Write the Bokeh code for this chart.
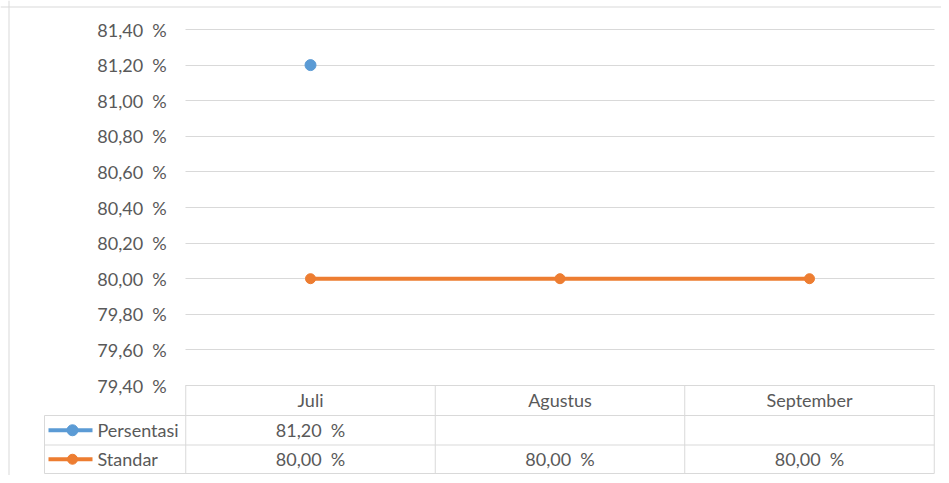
import math
from bokeh.plotting import figure
from bokeh.models import Range1d, LinearAxis, FixedTicker, Grid, ColumnDataSource, Span
from bokeh.core.properties import value
from bokeh.embed import file_html
from bokeh.resources import INLINE

# ---- data ----
months = ["Juli", "Agustus", "September"]
series_names = ["Persentasi", "Standar"]
persentasi = [81.20, float("nan"), float("nan")]
standar = [80.00, 80.00, 80.00]
y_ticks = [79.40, 79.60, 79.80, 80.00, 80.20, 80.40, 80.60, 80.80, 81.00, 81.20, 81.40]
y_tick_labels = ["79,40\u00a0\u00a0%", "79,60\u00a0\u00a0%", "79,80\u00a0\u00a0%", "80,00\u00a0\u00a0%",
                 "80,20\u00a0\u00a0%", "80,40\u00a0\u00a0%", "80,60\u00a0\u00a0%", "80,80\u00a0\u00a0%",
                 "81,00\u00a0\u00a0%", "81,20\u00a0\u00a0%", "81,40\u00a0\u00a0%"]

colors = ["#5b9bd5", "#ed7d31"]
marker_sizes = [11, 10]
TEXT = "#595959"
GRID = "#d9d9d9"
FONT = "Lato"
FS = "18px"

# ---- layout (pixels -> data) ----
W, H = 941, 475
cat_px = 249.5          # pixels per category
x_center0 = 310         # canvas x of first category centre
y_px = 178.0            # pixels per 1.0 on the value axis
y_top_px = 29           # canvas y of top tick
ymin, ymax = y_ticks[0], y_ticks[-1]

x0 = -x_center0 / cat_px
x1 = (W - x_center0) / cat_px
y1 = ymax + y_top_px / y_px
y0 = ymax - (H - y_top_px) / y_px

def xd(px_canvas):
    return (px_canvas - x_center0) / cat_px

def yd(px_below_min):
    return ymin - px_below_min / y_px

def ycanvas(py):
    return ymax - (py - y_top_px) / y_px

p = figure(width=W, height=H, output_backend="svg", toolbar_location=None,
           x_range=Range1d(x0, x1), y_range=Range1d(y0, y1),
           x_axis_type=None, y_axis_type=None, min_border=0)
p.outline_line_color = None
p.background_fill_color = "white"
p.border_fill_color = "white"

# chart border (left and top edges visible)
p.add_layout(Span(location=xd(8.5), dimension="height", line_color=GRID, line_width=1))
p.add_layout(Span(location=ycanvas(6.5), dimension="width", line_color=GRID, line_width=1))

# grid
p.add_layout(Grid(dimension=1, ticker=FixedTicker(ticks=y_ticks), grid_line_color=GRID,
                  grid_line_width=1, cross_bounds=(-0.5, len(months) - 0.5)))

# y axis
yaxis = LinearAxis(fixed_location=-0.5, ticker=FixedTicker(ticks=y_ticks),
                   major_label_overrides={t: l for t, l in zip(y_ticks, y_tick_labels)},
                   axis_line_color=None, major_tick_line_color=None, minor_tick_line_color=None,
                   major_tick_out=0, major_tick_in=0, major_label_standoff=19,
                   major_label_text_font=FONT, major_label_text_font_size=FS,
                   major_label_text_color=TEXT)
p.add_layout(yaxis, "left")

# x axis (header row of the data table)
xs = list(range(len(months)))
xaxis = LinearAxis(fixed_location=ymin, ticker=FixedTicker(ticks=xs),
                   major_label_overrides={i: m for i, m in zip(xs, months)},
                   axis_line_color=None, major_tick_line_color=None, minor_tick_line_color=None,
                   major_tick_out=0, major_tick_in=0, major_label_standoff=3,
                   major_label_text_font=FONT, major_label_text_font_size=FS,
                   major_label_text_color=TEXT)
p.add_layout(xaxis, "below")

# data table borders
rows_px = [0, 30, 59.5, 88]
left_px = 44
xl = xd(left_px)
xr = len(months) - 0.5
hx0, hx1, hy = [-0.5], [xr], [yd(rows_px[0])]
for r in rows_px[1:]:
    hx0.append(xl); hx1.append(xr); hy.append(yd(r))
p.segment(x0=hx0, x1=hx1, y0=hy, y1=hy, line_color=GRID, line_width=1)
vx = [-0.5 + i for i in range(len(months) + 1)]
p.segment(x0=vx, x1=vx, y0=[yd(rows_px[0])] * len(vx), y1=[yd(rows_px[-1])] * len(vx),
          line_color=GRID, line_width=1)
p.segment(x0=[xl], x1=[xl], y0=[yd(rows_px[1])], y1=[yd(rows_px[-1])], line_color=GRID, line_width=1)

def fmt(v):
    if v is None or (isinstance(v, float) and math.isnan(v)):
        return ""
    return f"{v:.2f}".replace(".", ",") + "\u00a0\u00a0%"

row_centers = [yd((rows_px[1] + rows_px[2]) / 2), yd((rows_px[2] + rows_px[3]) / 2)]
for ri, (name, vals, col) in enumerate(zip(series_names, [persentasi, standar], colors)):
    yc = row_centers[ri]
    # series on chart
    src = ColumnDataSource(dict(x=xs, y=vals))
    p.line("x", "y", source=src, line_color=col, line_width=4)
    p.scatter("x", "y", source=src, size=marker_sizes[ri], marker="circle", fill_color=col, line_color=col)
    # table values
    p.text(x=xs, y=[yc] * len(xs), text=[fmt(v) for v in vals], text_align="center",
           text_baseline="middle", text_font=value(FONT), text_font_size=FS, text_color=TEXT)
    # legend key
    p.line(x=[xd(48), xd(92)], y=[yc, yc], line_color=col, line_width=4)
    p.scatter(x=[xd(72)], y=[yc], size=marker_sizes[ri], marker="circle", fill_color=col, line_color=col)
    p.text(x=[xd(97)], y=[yc], text=[name], text_align="left", text_baseline="middle",
           text_font=value(FONT), text_font_size=FS, text_color=TEXT)

open("out.html", "w").write(file_html(p, INLINE))
